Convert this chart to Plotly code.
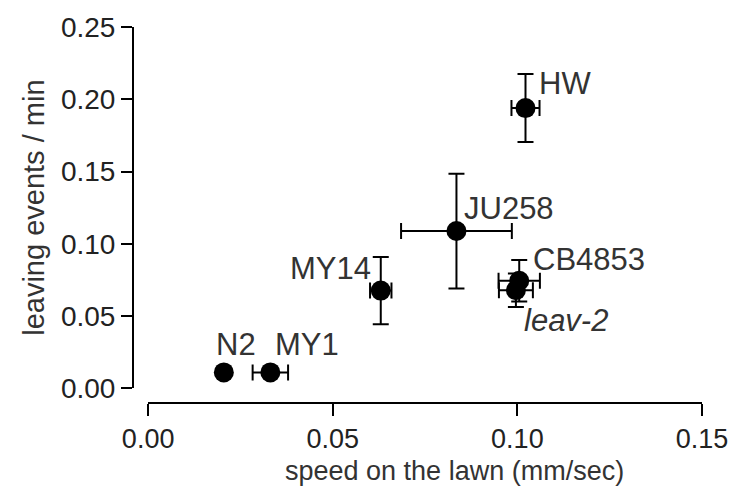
import plotly.graph_objects as go

# ---- data ----
strains = ["N2", "MY1", "MY14", "JU258", "CB4853", "leav-2", "HW"]
speed = [0.0205, 0.0331, 0.0630, 0.0835, 0.1005, 0.0996, 0.1022]
speed_err = [0.0, 0.0048, 0.0029, 0.0150, 0.0056, 0.0046, 0.0038]
leaving = [0.011, 0.011, 0.0676, 0.1088, 0.0744, 0.0678, 0.1939]
leaving_err = [0.0, 0.0, 0.0233, 0.0397, 0.0143, 0.0116, 0.0235]
x_ticks = [0.00, 0.05, 0.10, 0.15]
y_ticks = [0.00, 0.05, 0.10, 0.15, 0.20, 0.25]
x_title = "speed on the lawn (mm/sec)"
y_title = "leaving events / min"

# label placement (styles, kept apart from the data)
label_style = {
    "N2": dict(xanchor="center", xshift=12, yshift=28),
    "MY1": dict(xanchor="left", xshift=3, yshift=28),
    "MY14": dict(xanchor="right", xshift=-8, yshift=22),
    "JU258": dict(xanchor="left", xshift=6, yshift=23),
    "CB4853": dict(xanchor="left", xshift=12, yshift=21),
    "leav-2": dict(xanchor="left", xshift=6, yshift=-30),
    "HW": dict(xanchor="left", xshift=11, yshift=25),
}

FONT = "Liberation Sans, Arial, Helvetica, sans-serif"

fig = go.Figure()
fig.add_trace(go.Scatter(
    x=speed, y=leaving, mode="markers",
    marker=dict(color="black", size=20, line=dict(width=0)),
    error_x=dict(type="data", array=speed_err, color="black", thickness=2, width=8),
    error_y=dict(type="data", array=leaving_err, color="black", thickness=2, width=8),
    cliponaxis=False, showlegend=False,
))

for s, xv, yv in zip(strains, speed, leaving):
    st = label_style[s]
    txt = "<i>%s</i>" % s if s == "leav-2" else s
    fig.add_annotation(x=xv, y=yv, text=txt, showarrow=False,
                       yanchor="middle", font=dict(family=FONT, size=31, color="#333333"),
                       **st)

W, H = 740, 492
l, r, t, b = 133, 32, 20, 89
pw, ph = W - l - r, H - t - b
x0px, y0px = 148.3, 388.0  # axis offsets (prism style)

# x-axis title placed as in the reference (slightly right of domain centre)
fig.add_annotation(xref="paper", yref="paper", x=(458 - l) / pw, y=(H - b - 472) / ph,
                   text=x_title, showarrow=False, xanchor="center", yanchor="middle",
                   borderpad=0,
                   font=dict(size=27, family=FONT, color="#333333"))

fig.update_layout(
    width=W, height=H,
    margin=dict(l=l, r=r, t=t, b=b),
    paper_bgcolor="white", plot_bgcolor="white",
    font=dict(family=FONT, color="#222222"),
    xaxis=dict(
        range=[0, 0.15], tickvals=x_ticks, ticktext=["%.2f" % v for v in x_ticks],
        domain=[(x0px - l) / pw, 1], anchor="free", position=0,
        showline=True, linecolor="black", linewidth=2,
        ticks="outside", ticklen=12, tickwidth=2, tickcolor="black",
        showgrid=False, zeroline=False,
        tickfont=dict(size=27, family=FONT, color="#222222"),
    ),
    yaxis=dict(
        range=[0, 0.25], tickvals=y_ticks, ticktext=["%.2f" % v for v in y_ticks],
        domain=[(H - b - y0px) / ph, 1], anchor="free", position=0,
        showline=True, linecolor="black", linewidth=2,
        ticks="outside", ticklen=11, tickwidth=2, tickcolor="black",
        showgrid=False, zeroline=False,
        tickfont=dict(size=28, family=FONT, color="#222222"),
        title=dict(text=y_title, font=dict(size=29, family=FONT, color="#333333"), standoff=7),
    ),
)

fig.write_html("out.html")
